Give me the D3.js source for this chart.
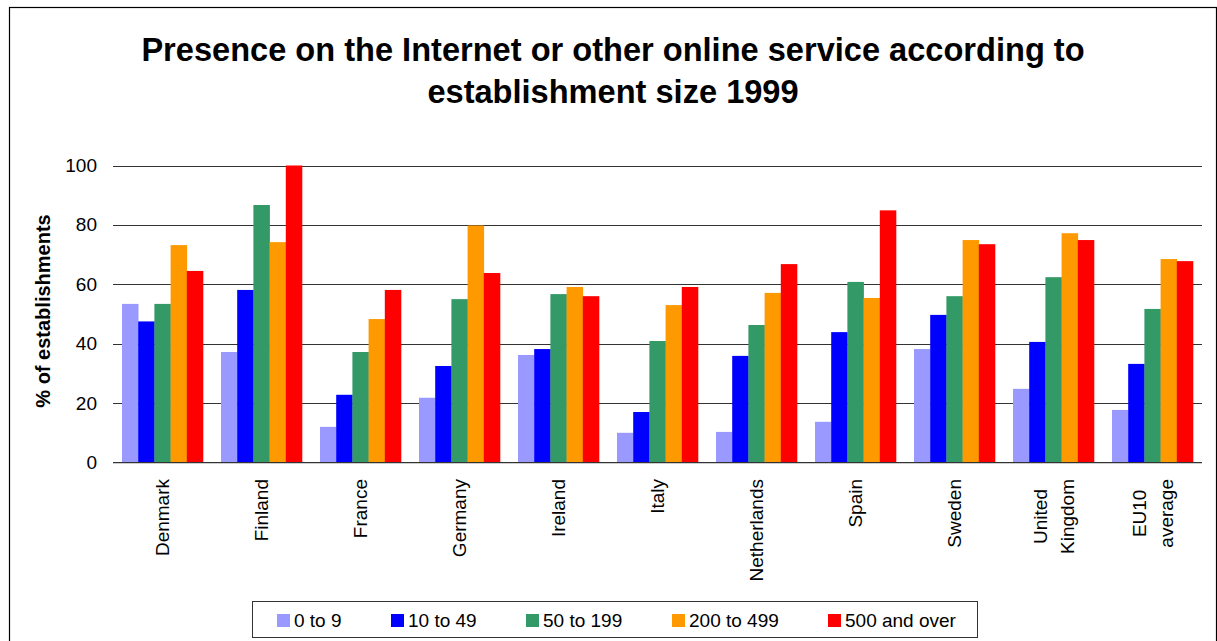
<!DOCTYPE html>
<html>
<head>
<meta charset="utf-8">
<script src="https://cdn.jsdelivr.net/npm/d3@7"></script>
<style>
  html, body { margin: 0; padding: 0; background: #fff; }
  svg { display: block; font-family: "Liberation Sans", Arial, sans-serif; }
</style>
</head>
<body>
<svg id="chart" width="1217" height="641"></svg>
<script>
// Countries (x categories) and their axis labels, split into lines
const categories = ["Denmark", "Finland", "France", "Germany", "Ireland", "Italy",
  "Netherlands", "Spain", "Sweden", "United Kingdom", "EU10 average"];
const categoryLabels = [["Denmark"], ["Finland"], ["France"], ["Germany"], ["Ireland"], ["Italy"],
  ["Netherlands"], ["Spain"], ["Sweden"], ["United", "Kingdom"], ["EU10", "average"]];

// Establishment size classes
const seriesNames = ["0 to 9", "10 to 49", "50 to 199", "200 to 499", "500 and over"];
const seriesColors = ["#9999FF", "#0000FF", "#339966", "#FF9900", "#FF0000"];

// % of establishments present online, one array per size class
const size0to9     = [53.4, 37.2, 12.0, 21.8, 36.2, 10.0, 10.3, 13.7, 38.2, 24.8, 17.7];
const size10to49   = [47.5, 58.1, 22.8, 32.5, 38.2, 17.0, 35.9, 43.9, 49.7, 40.6, 33.2];
const size50to199  = [53.4, 86.7, 37.2, 55.0, 56.7, 40.9, 46.3, 60.8, 56.0, 62.4, 51.7];
const size200to499 = [73.2, 74.2, 48.3, 79.8, 59.1, 53.0, 57.1, 55.4, 74.9, 77.2, 68.5];
const size500plus  = [64.5, 100.0, 58.1, 63.8, 56.0, 59.1, 66.8, 84.9, 73.5, 74.9, 67.8];
const seriesValues = [size0to9, size10to49, size50to199, size200to499, size500plus];

const yTicks = [0, 20, 40, 60, 80, 100];

const svg = d3.select("#chart");

// Outer frame
svg.append("rect")
  .attr("x", 9.5).attr("y", 7.5)
  .attr("width", 1207).attr("height", 700)
  .attr("fill", "none").attr("stroke", "#000").attr("stroke-width", 1.2);

// Title
const title = svg.append("text")
  .attr("text-anchor", "middle")
  .attr("font-weight", "bold")
  .attr("font-size", 32.6)
  .attr("fill", "#000");
title.append("tspan").attr("x", 613).attr("y", 61).text("Presence on the Internet or other online service according to");
title.append("tspan").attr("x", 613).attr("y", 103).text("establishment size 1999");

// Plot area
const left = 113, right = 1202;
const y = d3.scaleLinear().domain([0, 100]).range([462.5, 165.5]);
const x0 = d3.scaleBand().domain(categories).range([left, right]).padding(0);
const innerPad = 9;
const x1 = d3.scaleBand().domain(seriesNames)
  .range([innerPad, x0.bandwidth() - innerPad]).padding(0);

// Gridlines
svg.append("g")
  .selectAll("line")
  .data(yTicks.filter(d => d > 0))
  .join("line")
  .attr("x1", left).attr("x2", right)
  .attr("y1", d => Math.round(y(d)) + 0.5).attr("y2", d => Math.round(y(d)) + 0.5)
  .attr("stroke", "#333").attr("stroke-width", 1);

// Bars
const groups = svg.append("g")
  .selectAll("g")
  .data(categories)
  .join("g")
  .attr("transform", d => `translate(${x0(d)},0)`);

groups.selectAll("rect")
  .data((c, i) => seriesNames.map((s, k) => ({ s, k, v: seriesValues[k][i] })))
  .join("rect")
  .attr("x", d => x1(d.s))
  .attr("width", x1.bandwidth() + 0.3)
  .attr("y", d => y(d.v))
  .attr("height", d => y(0) - y(d.v))
  .attr("fill", d => seriesColors[d.k]);

// Category axis line
svg.append("line")
  .attr("x1", left).attr("x2", right)
  .attr("y1", 463.5).attr("y2", 463.5)
  .attr("stroke", "#ccc");
svg.append("line")
  .attr("x1", left).attr("x2", right)
  .attr("y1", 462.5).attr("y2", 462.5)
  .attr("stroke", "#333");

// Value axis labels
const yAxis = d3.axisLeft(y).tickValues(yTicks).tickSize(0).tickPadding(0);
const yg = svg.append("g").attr("transform", "translate(97,0)").call(yAxis);
yg.select(".domain").remove();
yg.selectAll("text")
  .attr("font-family", "Liberation Sans, Arial, sans-serif")
  .attr("font-size", 19).attr("fill", "#000");

// Value axis title
svg.append("text")
  .attr("transform", "translate(50,311) rotate(-90)")
  .attr("text-anchor", "middle")
  .attr("font-weight", "bold").attr("font-size", 20)
  .text("% of establishments");

// Category labels, rotated, multi-line blocks centred per line
const labelTop = 479;
const lineGap = 27;
categories.forEach((c, i) => {
  const lines = categoryLabels[i];
  const cx = x0(c) + x0.bandwidth() / 2;
  const g = svg.append("g");
  const texts = lines.map((ln, j) => {
    const lx = cx + (j - (lines.length - 1) / 2) * lineGap;
    return g.append("text")
      .attr("font-size", 19).attr("fill", "#000")
      .attr("dy", "0.35em")
      .attr("data-x", lx)
      .text(ln);
  });
  const maxW = d3.max(texts, t => t.node().getComputedTextLength());
  texts.forEach(t => {
    const lx = +t.attr("data-x");
    if (lines.length === 1) {
      t.attr("text-anchor", "end")
        .attr("transform", `translate(${lx},${labelTop}) rotate(-90)`);
    } else {
      t.attr("text-anchor", "middle")
        .attr("transform", `translate(${lx},${labelTop + maxW / 2}) rotate(-90)`);
    }
    t.attr("data-x", null);
  });
});

// Legend
svg.append("rect")
  .attr("x", 252.5).attr("y", 601.5)
  .attr("width", 725).attr("height", 36)
  .attr("fill", "#fff").attr("stroke", "#333").attr("stroke-width", 1);

const legendX = [277, 391, 526, 672, 828];
const legend = svg.append("g")
  .selectAll("g")
  .data(seriesNames)
  .join("g")
  .attr("transform", (d, i) => `translate(${legendX[i]},614)`);
legend.append("rect")
  .attr("width", 13).attr("height", 13)
  .attr("fill", (d, i) => seriesColors[i]);
legend.append("text")
  .attr("x", 17).attr("y", 6.5).attr("dy", "0.35em")
  .attr("font-size", 19).attr("fill", "#000")
  .text(d => d);
</script>
</body>
</html>
